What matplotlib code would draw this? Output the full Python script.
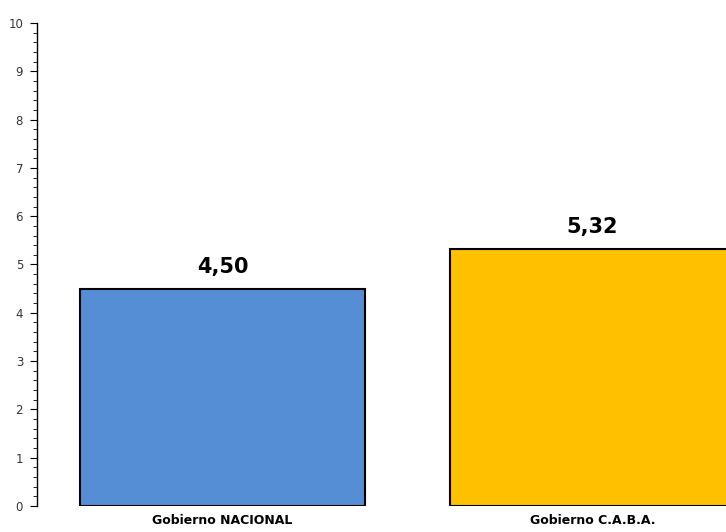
import matplotlib.pyplot as plt
from matplotlib.ticker import MultipleLocator

categorias = ['Gobierno NACIONAL', 'Gobierno C.A.B.A.']
valores = [4.50, 5.32]
colores = ['#558ED5', '#FFC000']

fig = plt.figure(figsize=(7.26, 5.32), dpi=100)
ax = fig.add_axes([37/726, 26/532, 689/726, 483/532])

x = range(len(categorias))
bars = ax.bar(x, valores, width=0.77, color=colores, edgecolor='black', linewidth=1.5)

for b, v in zip(bars, valores):
    ax.text(b.get_x() + b.get_width()/2, v + 0.25, f'{v:.2f}'.replace('.', ','),
            ha='center', va='bottom', fontsize=15, fontweight='bold')

ax.set_xlim(-0.501, 1.361)
ax.set_ylim(0, 10)
ax.yaxis.set_major_locator(MultipleLocator(1))
ax.yaxis.set_minor_locator(MultipleLocator(0.2))
ax.set_xticks(list(x))
ax.set_xticklabels(categorias, fontsize=9, fontweight='bold')
ax.tick_params(axis='x', length=0, pad=6)
ax.tick_params(axis='y', which='major', length=5, labelsize=8.5, pad=5, labelcolor='#333333')
ax.tick_params(axis='y', which='minor', length=3)
for s in ['top', 'right', 'bottom']:
    ax.spines[s].set_visible(False)
ax.spines['left'].set_linewidth(1)

fig.savefig('out.png', dpi=100)
